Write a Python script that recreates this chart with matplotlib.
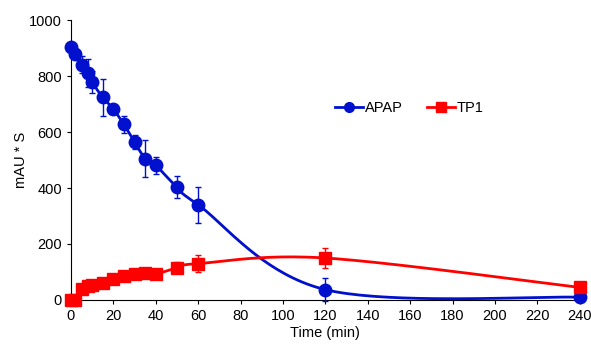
import numpy as np
import matplotlib.pyplot as plt

plt.rcParams['font.family'] = ['Liberation Sans', 'DejaVu Sans']

time_min = [0, 2, 5, 8, 10, 15, 20, 25, 30, 35, 40, 50, 60, 120, 240]
apap = [905, 880, 840, 812, 778, 724, 682, 627, 565, 505, 481, 403, 340, 37, 10]
apap_err = [10, 15, 30, 50, 40, 65, 10, 30, 25, 65, 30, 40, 65, 40, 5]
tp1 = [0, 0, 40, 50, 52, 62, 75, 85, 92, 98, 93, 115, 130, 150, 45]
tp1_err = [2, 2, 8, 8, 8, 8, 8, 8, 8, 8, 8, 20, 30, 35, 10]

BLUE = '#0010CC'
RED = '#FF0000'


def smooth(x, y, n=40):
    # excel style smoothed line: catmull-rom through the points
    x = np.asarray(x, float)
    y = np.asarray(y, float)
    px = np.concatenate([[x[0]], x, [x[-1]]])
    py = np.concatenate([[y[0]], y, [y[-1]]])
    xs, ys = [], []
    t = np.linspace(0, 1, n)
    for i in range(1, len(px) - 2):
        for p, out in ((px, xs), (py, ys)):
            p0, p1, p2, p3 = p[i - 1], p[i], p[i + 1], p[i + 2]
            m1 = (p2 - p0) / 2
            m2 = (p3 - p1) / 2
            h00 = 2 * t**3 - 3 * t**2 + 1
            h10 = t**3 - 2 * t**2 + t
            h01 = -2 * t**3 + 3 * t**2
            h11 = t**3 - t**2
            out.extend(h00 * p1 + h10 * m1 + h01 * p2 + h11 * m2)
    return np.array(xs), np.array(ys)


fig = plt.figure(figsize=(5.91, 3.46), dpi=100)
ax = fig.add_axes([0.120, 0.133, 0.861, 0.809])

for y, err, col, mk, ms, lab in [(apap, apap_err, BLUE, 'o', 9, 'APAP'),
                                 (tp1, tp1_err, RED, 's', 8, 'TP1')]:
    sx, sy = smooth(time_min, y)
    ax.plot(sx, sy, color=col, lw=2, zorder=2, clip_on=False)
    ax.errorbar(time_min, y, yerr=err, fmt='none', ecolor=col, elinewidth=1,
                capsize=2.5, capthick=1, zorder=3, clip_on=False)
    ax.plot(time_min, y, linestyle='none', marker=mk, ms=ms, color=col,
            zorder=4, clip_on=False)
    ax.plot([], [], color=col, lw=2, marker=mk, ms=7, label=lab)

ax.set_xlim(0, 240)
ax.set_ylim(0, 1000)
ax.set_xticks(range(0, 241, 20))
ax.set_yticks(range(0, 1001, 200))
for s in ['top', 'right']:
    ax.spines[s].set_visible(False)
for s in ['left', 'bottom']:
    ax.spines[s].set_linewidth(0.8)
    ax.spines[s].set_zorder(1)
ax.tick_params(labelsize=10.5, length=3, width=0.8)
ax.set_xlabel('Time (min)', fontsize=10.5, labelpad=2)
ax.set_ylabel('mAU * S', fontsize=10.5, labelpad=1)

ax.legend(loc='center', bbox_to_anchor=(0.665, 0.685), ncol=2, frameon=False,
          fontsize=10.5, handlelength=1.9, handletextpad=0.1, columnspacing=1.7)

fig.savefig('out.png', dpi=100)
